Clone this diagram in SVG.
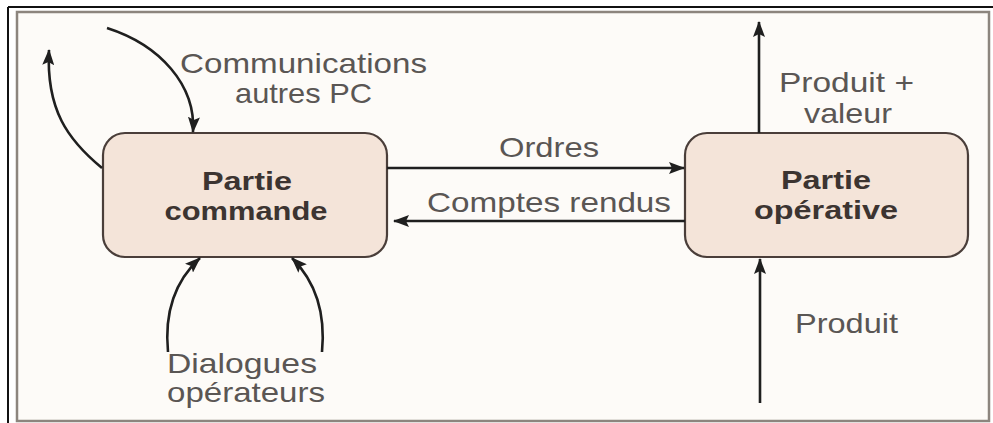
<svg xmlns="http://www.w3.org/2000/svg" width="993" height="423" viewBox="0 0 993 423">
<defs>
<style>
.lbl{font-family:"Liberation Sans",Arial,sans-serif;font-size:28px;fill:#5a5654;}
.node-t{font-family:"Liberation Sans",Arial,sans-serif;font-size:26px;font-weight:bold;fill:#3c3431;}
.box{fill:#f4e4d9;stroke:#4a3e3a;stroke-width:2.2;}
.conn{fill:none;stroke:#1f1f1f;stroke-width:2.6;}
</style>
<marker id="ah" viewBox="0 0 16 12" refX="15" refY="6" markerWidth="16" markerHeight="12" markerUnits="userSpaceOnUse" orient="auto">
<path d="M0,0 L16,6 L0,12 L3,6 Z" fill="#1f1f1f"/>
</marker>
</defs>
<rect x="0" y="0" width="993" height="423" fill="#ffffff"/>
<rect x="17" y="12" width="972" height="409" fill="#fdfbf8" stroke="#8c857e" stroke-width="2.5"/>
<line x1="8" y1="7" x2="993" y2="7" stroke="#111" stroke-width="2"/>
<line x1="8" y1="7" x2="8" y2="423" stroke="#111" stroke-width="2"/>

<g id="partie-commande">
<rect class="box" x="103" y="133" width="284" height="124" rx="22"/>
<text class="node-t" x="247" y="190" text-anchor="middle" textLength="90" lengthAdjust="spacingAndGlyphs">Partie</text>
<text class="node-t" x="246" y="220" text-anchor="middle" textLength="163" lengthAdjust="spacingAndGlyphs">commande</text>
</g>

<g id="partie-operative">
<rect class="box" x="685" y="133" width="283" height="124" rx="22"/>
<text class="node-t" x="826" y="189" text-anchor="middle" textLength="90" lengthAdjust="spacingAndGlyphs">Partie</text>
<text class="node-t" x="826" y="219" text-anchor="middle" textLength="144" lengthAdjust="spacingAndGlyphs">opérative</text>
</g>

<g id="connectors">
<path class="conn" d="M387,168 L684,168" marker-end="url(#ah)"/>
<path class="conn" d="M685,221 L394,221" marker-end="url(#ah)"/>
<path class="conn" d="M759,133 L759,22" marker-end="url(#ah)"/>
<path class="conn" d="M760,403 L760,259" marker-end="url(#ah)"/>
<path class="conn" d="M107,28 C160,45 196,85 193,132" marker-end="url(#ah)"/>
<path class="conn" d="M102,168 C68,140 46,110 49,50" marker-end="url(#ah)"/>
<path class="conn" d="M168,352 C164,310 176,280 200,258" marker-end="url(#ah)"/>
<path class="conn" d="M322,352 C326,310 314,280 292,258" marker-end="url(#ah)"/>
</g>

<g id="labels">
<text class="lbl" x="180" y="73" textLength="247" lengthAdjust="spacingAndGlyphs">Communications</text>
<text class="lbl" x="235" y="103" textLength="137" lengthAdjust="spacingAndGlyphs">autres PC</text>
<text class="lbl" x="499" y="157" textLength="100" lengthAdjust="spacingAndGlyphs">Ordres</text>
<text class="lbl" x="427" y="212" textLength="244" lengthAdjust="spacingAndGlyphs">Comptes rendus</text>
<text class="lbl" x="779" y="92" textLength="135" lengthAdjust="spacingAndGlyphs">Produit +</text>
<text class="lbl" x="804" y="123" textLength="88" lengthAdjust="spacingAndGlyphs">valeur</text>
<text class="lbl" x="795" y="333" textLength="103" lengthAdjust="spacingAndGlyphs">Produit</text>
<text class="lbl" x="167" y="373" textLength="150" lengthAdjust="spacingAndGlyphs">Dialogues</text>
<text class="lbl" x="167" y="402" textLength="158" lengthAdjust="spacingAndGlyphs">opérateurs</text>
</g>
</svg>
